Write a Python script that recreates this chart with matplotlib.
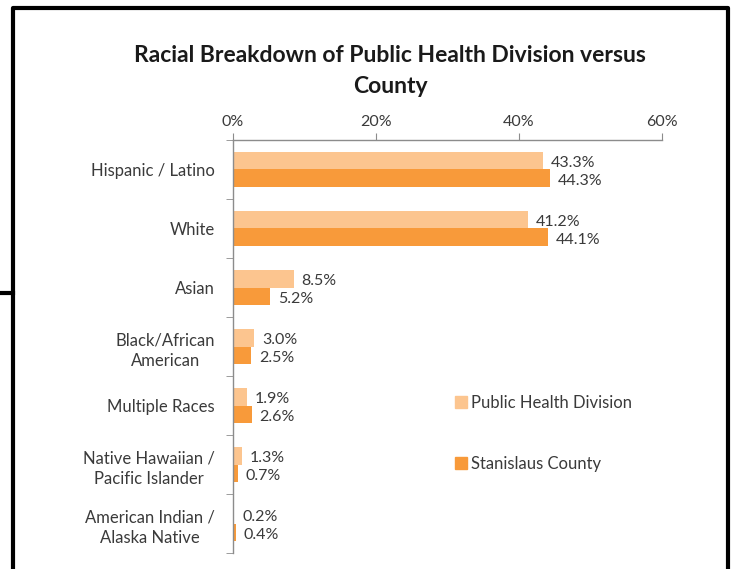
import numpy as np
import matplotlib.pyplot as plt
from matplotlib.lines import Line2D

plt.rcParams['font.family'] = ['Lato', 'DejaVu Sans']

categories = ["Hispanic / Latino", "White", "Asian", "Black/African\nAmerican",
              "Multiple Races", "Native Hawaiian /\nPacific Islander",
              "American Indian /\nAlaska Native"]
public_health = [43.3, 41.2, 8.5, 3.0, 1.9, 1.3, 0.2]
county = [44.3, 44.1, 5.2, 2.5, 2.6, 0.7, 0.4]
xticks = [0, 20, 40, 60]

light = "#FCC58F"
dark = "#F89A3A"
grey = "#8C8C8C"
text_col = "#3A3A3A"

fig = plt.figure(figsize=(7.35, 5.69), dpi=100)
ax = fig.add_axes([0.317, 0.028, 0.5837, 0.726])

y = np.arange(len(categories))
h = 0.29
ax.barh(y - h / 2, public_health, height=h, color=light, label="Public Health Division")
ax.barh(y + h / 2, county, height=h, color=dark, label="Stanislaus County")

for yi, v in zip(y, public_health):
    ax.text(v + 1.1, yi - h / 2 + 0.03, f"{v:.1f}%", va="center", ha="left", fontsize=11.5, color=text_col)
for yi, v in zip(y, county):
    ax.text(v + 1.1, yi + h / 2 + 0.05, f"{v:.1f}%", va="center", ha="left", fontsize=11.5, color=text_col)

ax.set_xlim(0, 60)
ax.set_ylim(len(categories) - 0.5, -0.5)
ax.xaxis.tick_top()
ax.set_xticks(xticks)
ax.set_xticklabels([f"{t}%" for t in xticks])
ax.set_yticks(y)
ax.set_yticklabels(categories, linespacing=1.35)
ax.set_yticks(np.arange(len(categories) + 1) - 0.5, minor=True)
ax.tick_params(axis="y", which="major", length=0, pad=13, labelsize=12, labelcolor=text_col)
ax.tick_params(axis="y", which="minor", length=5, color=grey, direction="out")
ax.tick_params(axis="x", length=5, color=grey, labelsize=11.5, labelcolor=text_col, pad=3)
for lbl in ax.get_yticklabels():
    lbl.set_multialignment("center")

for s in ["right", "bottom"]:
    ax.spines[s].set_visible(False)
for s in ["top", "left"]:
    ax.spines[s].set_color(grey)
    ax.spines[s].set_linewidth(1)

handles = [Line2D([], [], marker="s", linestyle="none", markersize=8, color=c) for c in (light, dark)]
fig.legend(handles, ["Public Health Division", "Stanislaus County"], loc="upper left",
           bbox_to_anchor=(0.595, 0.333), frameon=False, fontsize=12, labelcolor=text_col,
           labelspacing=2.7, handletextpad=0.1, handlelength=1.0)

fig.text(0.531, 0.875, "Racial Breakdown of Public Health Division versus\nCounty",
         ha="center", va="center", fontsize=16.5, fontweight="bold", color="#1A1A1A",
         linespacing=1.6)

# outer frame
fig.add_artist(Line2D([0.018, 0.018, 0.991, 0.991], [0.0, 0.986, 0.986, 0.0],
                      transform=fig.transFigure, color="black", lw=3))
fig.add_artist(Line2D([0.0, 0.018], [0.485, 0.485], transform=fig.transFigure, color="black", lw=3))

fig.savefig("out.png", dpi=100)
